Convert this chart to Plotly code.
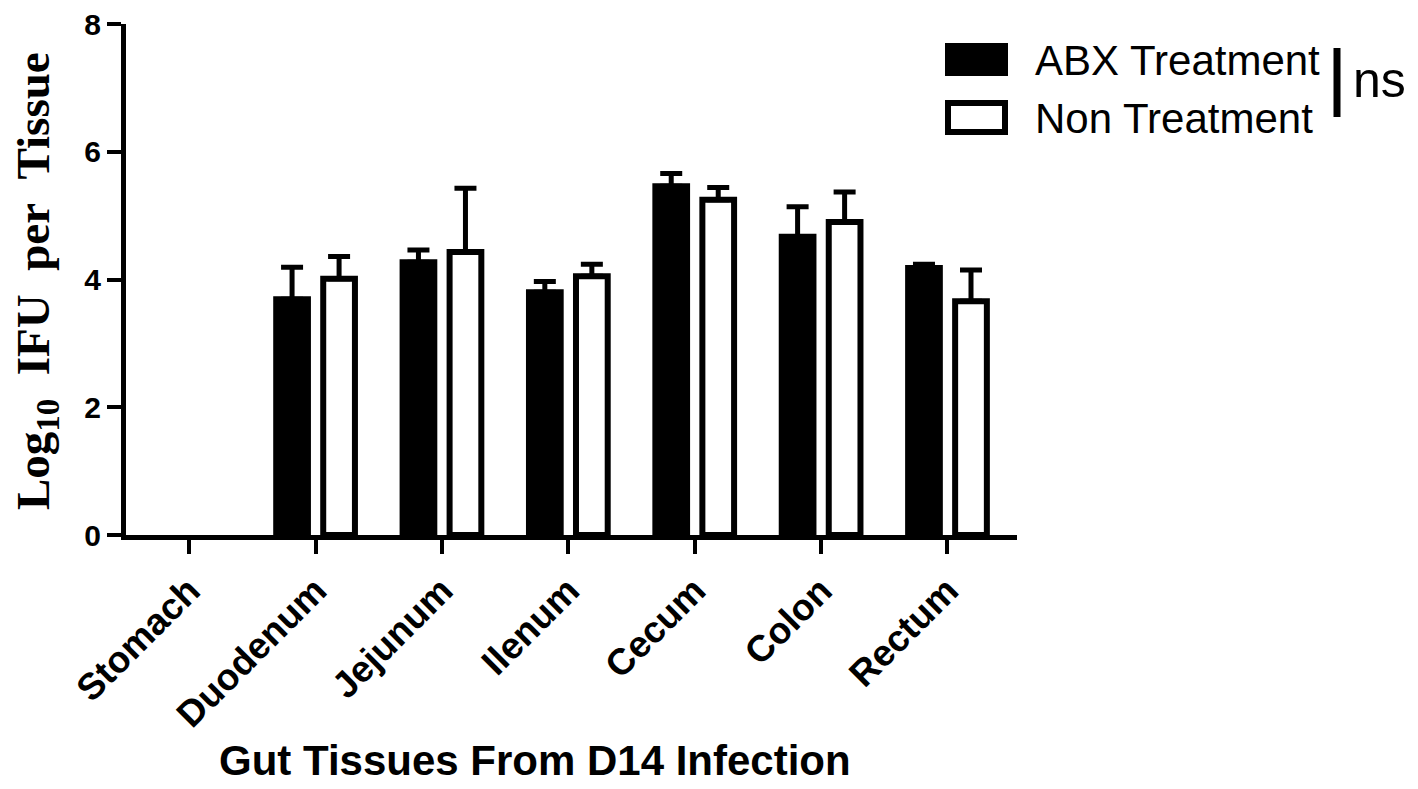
import plotly.graph_objects as go

# ---- data ----
tissues = ["Stomach", "Duodenum", "Jejunum", "Ilenum", "Cecum", "Colon", "Rectum"]
abx_mean = [0, 3.69, 4.27, 3.80, 5.46, 4.67, 4.18]
abx_err = [0, 0.50, 0.19, 0.17, 0.20, 0.47, 0.06]
non_mean = [0, 4.01, 4.43, 4.05, 5.25, 4.90, 3.66]
non_err = [0, 0.35, 1.00, 0.19, 0.19, 0.47, 0.49]
series_names = ["ABX Treatment", "Non Treatment"]
y_ticks = [0, 2, 4, 6, 8]

# ---- layout geometry (pixels, in reference-image coordinates) ----
W, H = 1418, 789
L, R, T, B = 126, 1017, 24, 535
PW, PH = R - L, B - T
PAGE_PAD = 8  # browser body margin


def px2x(px):
    return (px - L) / PW


def py2y(py):
    return (B - py) / PH


SANS = "Liberation Sans, Arial, sans-serif"
SERIF = "Liberation Serif, Times New Roman, serif"

BAR_W = 0.251
OFF = 0.186


def plot_vals(vals):
    # a zero (undetected) value draws no bar and no error bar
    return [v if v > 0 else None for v in vals]


fig = go.Figure()
fig.add_trace(go.Bar(
    x=tissues, y=plot_vals(abx_mean), name=series_names[0],
    width=BAR_W, offset=-OFF - BAR_W / 2,
    marker=dict(color="black", line=dict(color="black", width=6)),
    error_y=dict(type="data", symmetric=False, array=abx_err,
                 arrayminus=[0] * len(abx_err), color="black",
                 thickness=5, width=11),
))
fig.add_trace(go.Bar(
    x=tissues, y=plot_vals(non_mean), name=series_names[1],
    width=BAR_W, offset=OFF - BAR_W / 2,
    marker=dict(color="white", line=dict(color="black", width=6)),
    error_y=dict(type="data", symmetric=False, array=non_err,
                 arrayminus=[0] * len(non_err), color="black",
                 thickness=5, width=11),
))

fig.update_layout(
    width=W - PAGE_PAD, height=H - PAGE_PAD,
    margin=dict(l=L - PAGE_PAD, r=W - R, t=T - PAGE_PAD, b=H - B, pad=0,
                autoexpand=False),
    paper_bgcolor="white", plot_bgcolor="white",
    barmode="overlay", showlegend=False,
    font=dict(family=SANS, color="black"),
)
fig.update_xaxes(
    type="category", categoryarray=tissues, range=[-0.5, 6.55],
    automargin=False,
    showline=True, linecolor="black", linewidth=5,
    ticks="outside", ticklen=14, tickwidth=4, tickcolor="black",
    tickangle=-45, showgrid=False, zeroline=False,
    tickfont=dict(family=SANS, size=37, color="black", weight="bold"),
)
fig.update_yaxes(
    range=[0, 8], tickvals=y_ticks, automargin=False,
    showline=True, linecolor="black", linewidth=5,
    ticks="outside", ticklen=14, tickwidth=4, tickcolor="black",
    showgrid=False, zeroline=False, ticklabeloverflow="allow",
    tickfont=dict(family=SANS, size=30, color="black", weight="bold"),
)

annotations = [
    # x-axis title
    dict(text="<b>Gut Tissues From D14 Infection</b>", x=px2x(535), y=py2y(761),
         xanchor="center", yanchor="middle", showarrow=False,
         font=dict(family=SANS, size=42, color="black")),
    # y-axis title
    dict(text="<b>Log<sub>10</sub>\u00a0\u00a0IFU\u00a0\u00a0per\u00a0\u00a0Tissue</b>",
         x=px2x(36), y=py2y(281), textangle=-90,
         xanchor="center", yanchor="middle", showarrow=False,
         font=dict(family=SERIF, size=47, color="black")),
    # legend labels
    dict(text=series_names[0], x=px2x(1033), y=py2y(60),
         xanchor="left", yanchor="middle", showarrow=False,
         font=dict(family=SANS, size=42, color="black")),
    dict(text=series_names[1], x=px2x(1033), y=py2y(118),
         xanchor="left", yanchor="middle", showarrow=False,
         font=dict(family=SANS, size=42, color="black")),
    dict(text="ns", x=px2x(1351), y=py2y(80),
         xanchor="left", yanchor="middle", showarrow=False,
         font=dict(family=SANS, size=50, color="black")),
]
for a in annotations:
    a.update(xref="paper", yref="paper")
fig.update_layout(annotations=annotations)

shapes = [
    dict(type="rect", x0=px2x(948), x1=px2x(1005), y0=py2y(73), y1=py2y(46),
         fillcolor="black", line=dict(color="black", width=6)),
    dict(type="rect", x0=px2x(948), x1=px2x(1005), y0=py2y(132), y1=py2y(103),
         fillcolor="white", line=dict(color="black", width=6)),
    dict(type="line", x0=px2x(1337), x1=px2x(1337), y0=py2y(117), y1=py2y(48),
         line=dict(color="black", width=7)),
]
for s in shapes:
    s.update(xref="paper", yref="paper")
fig.update_layout(shapes=shapes)

fig.write_html("out.html")
